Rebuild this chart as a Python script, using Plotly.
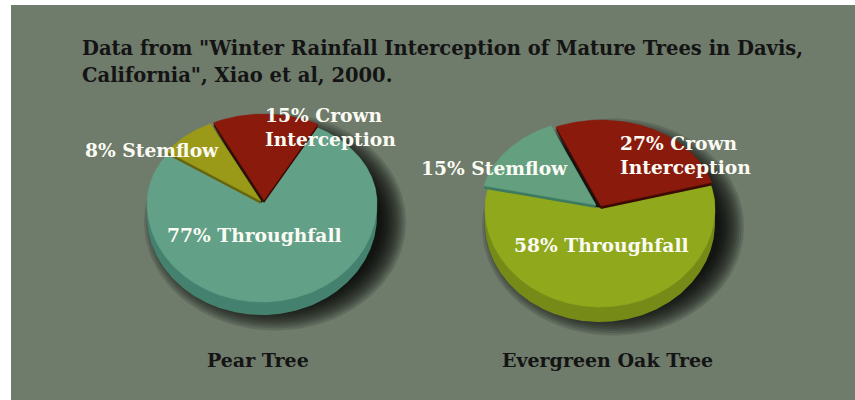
import numpy as np
import plotly.graph_objects as go

# ---------------- data ----------------
title_lines = ['Data from "Winter Rainfall Interception of Mature Trees in Davis,',
               'California", Xiao et al, 2000.']
categories = ["Crown Interception", "Stemflow", "Throughfall"]
tree_names = ["Pear Tree", "Evergreen Oak Tree"]
pear_values = [15, 8, 77]
oak_values = [27, 15, 58]

# ---------------- style ----------------
BG = "#6f7b6b"
pear_colors = {"Crown Interception": ("#8a1a0c", "#3c0a05"),
               "Stemflow": ("#9a9a18", "#66650e"),
               "Throughfall": ("#62a088", "#44826f")}
oak_colors = {"Crown Interception": ("#8a1a0c", "#3c0a05"),
              "Stemflow": ("#64a080", "#3e7a60"),
              "Throughfall": ("#90a81c", "#758a17")}

pies = [
    dict(name=tree_names[0], values=pear_values, colors=pear_colors,
         cx=262, cy=203, a=115, bu=86, bd=99, depth=13, start=116,
         explode={"Crown Interception": (2, -3), "Stemflow": (-1, -2)},
         name_pos=(258, 360),
         label_pos={"Crown Interception": (263, 127, "left"),
                    "Stemflow": (152, 150, "center"),
                    "Throughfall": (254, 235, "center")}),
    dict(name=tree_names[1], values=oak_values, colors=oak_colors,
         cx=600, cy=208, a=115, bu=86, bd=99, depth=15, start=113,
         explode={"Crown Interception": (1, -2), "Stemflow": (-4, -3)},
         name_pos=(607, 360),
         label_pos={"Crown Interception": (618, 155, "left"),
                    "Stemflow": (494, 168, "center"),
                    "Throughfall": (601, 245, "center")}),
]

FONT = "DejaVu Serif"


def ell_pt(p, th, dx=0.0, dy=0.0):
    t = np.deg2rad(th)
    s = np.sin(t)
    b = np.where(s > 0, p["bu"], p["bd"])
    return p["cx"] + dx + p["a"] * np.cos(t), p["cy"] + dy - b * s


def wedge(p, th0, th1, dx=0.0, dy=0.0):
    ths = np.linspace(th0, th1, max(8, int(abs(th1 - th0) * 1.5)))
    x, y = ell_pt(p, ths, dx, dy)
    xs = [p["cx"] + dx] + list(x) + [p["cx"] + dx]
    ys = [p["cy"] + dy] + list(y) + [p["cy"] + dy]
    return xs, ys


fig = go.Figure()

# background panel
fig.add_shape(type="rect", x0=11, x1=855, y0=5, y1=400, xref="x", yref="y",
              fillcolor=BG, line_width=0, layer="below")

for p in pies:
    vals = dict(zip(categories, p["values"]))
    crown = 360 * vals["Crown Interception"] / 100
    stem = 360 * vals["Stemflow"] / 100
    st = p["start"]
    spans = {"Crown Interception": (st - crown, st),
             "Stemflow": (st, st + stem),
             "Throughfall": (st + stem, st - crown + 360)}

    # blurred drop shadow
    n = 12
    for k in range(n):
        grow = 16 - 2.2 * k
        t = np.linspace(0, 2 * np.pi, 120)
        sx = p["cx"] + 13 + (p["a"] + grow) * np.cos(t)
        sy = p["cy"] + 19 + (0.5 * (p["bu"] + p["bd"]) + grow) * np.sin(t)
        fig.add_trace(go.Scatter(x=sx, y=sy, mode="lines", fill="toself",
                                 fillcolor="rgba(0,0,0,0.13)", line_width=0,
                                 hoverinfo="skip", showlegend=False))

    for cat in ["Throughfall", "Stemflow", "Crown Interception"]:
        th0, th1 = spans[cat]
        top, side = p["colors"][cat]
        ex, ey = p["explode"].get(cat, (0, 0))
        depth = p["depth"] if cat == "Throughfall" else 3
        # extruded side: stacked shifted copies
        xs_all, ys_all = [], []
        for d in np.arange(1, depth + 0.5, 1.0):
            xs, ys = wedge(p, th0, th1, ex, ey + d)
            xs_all += xs + [None]
            ys_all += ys + [None]
        fig.add_trace(go.Scatter(x=xs_all, y=ys_all, mode="lines", fill="toself",
                                 fillcolor=side, line=dict(width=0, color=side),
                                 hoverinfo="skip", showlegend=False))
        xs, ys = wedge(p, th0, th1, ex, ey)
        fig.add_trace(go.Scatter(x=xs, y=ys, mode="lines", fill="toself",
                                 fillcolor=top, line=dict(width=0.5, color=top),
                                 name=cat, hoverinfo="name", showlegend=False))

    for cat in categories:
        x, y, al = p["label_pos"][cat]
        v = vals[cat]
        txt = f"{v}% Crown<br>Interception" if cat == "Crown Interception" else f"{v}% {cat}"
        fig.add_annotation(x=x, y=y, xref="x", yref="y", text=txt, showarrow=False,
                           xanchor=al, yanchor="middle", align="left",
                           font=dict(family=FONT, size=18.7, color="#fbfbf4", weight="bold"))

    fig.add_annotation(x=p["name_pos"][0], y=p["name_pos"][1], xref="x", yref="y",
                       text=p["name"], showarrow=False, xanchor="center", yanchor="middle",
                       font=dict(family=FONT, size=19, color="#141414", weight="bold"))

for i, line in enumerate(title_lines):
    fig.add_annotation(x=80, y=48 + 27 * i, xref="x", yref="y", text=line, showarrow=False,
                       xanchor="left", yanchor="middle",
                       font=dict(family=FONT, size=19.5, color="#141414", weight="bold"))

fig.update_layout(
    width=855, height=400, autosize=False,
    margin=dict(l=0, r=0, t=0, b=0),
    paper_bgcolor="white", plot_bgcolor="white",
    xaxis=dict(range=[0, 855], visible=False, fixedrange=True),
    yaxis=dict(range=[400, 0], visible=False, fixedrange=True),
    showlegend=False,
)

fig.write_html("out.html", config={"displayModeBar": False},
               post_script="document.body.style.margin='0px';document.body.style.overflow='hidden';")
